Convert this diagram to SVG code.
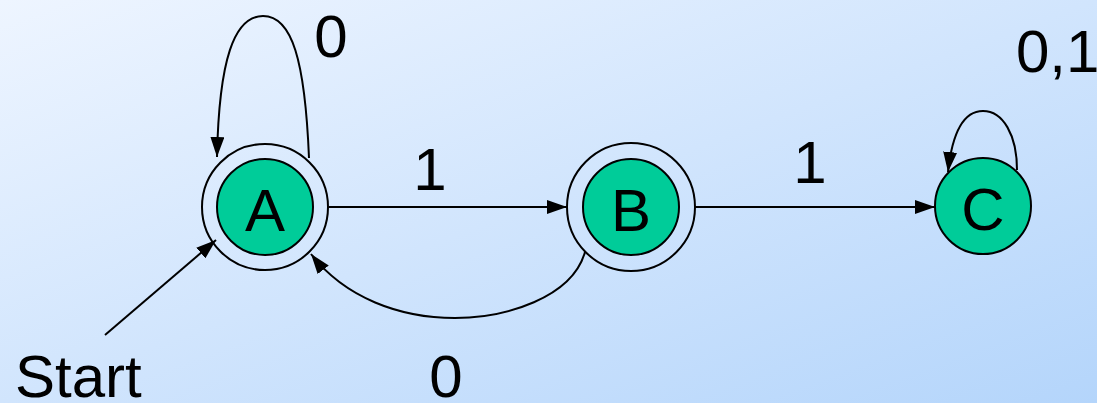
<svg xmlns="http://www.w3.org/2000/svg" width="1097" height="403" viewBox="0 0 1097 403">
<defs>
<linearGradient id="bg" x1="0" y1="0" x2="1" y2="1">
<stop offset="0" stop-color="#eef5ff"/>
<stop offset="1" stop-color="#b4d5fb"/>
</linearGradient>
<marker id="ah" viewBox="0 0 20 14" refX="20" refY="7" markerWidth="20" markerHeight="14" markerUnits="userSpaceOnUse" orient="auto">
<path d="M0,0 L20,7 L0,14 z" fill="#000"/>
</marker>
<style>
.ring{fill:none;stroke:#000;stroke-width:2}
.st{fill:#00cc99;stroke:#000;stroke-width:2}
.e{fill:none;stroke:#000;stroke-width:2;marker-end:url(#ah)}
text{font-family:"Liberation Sans","DejaVu Sans",sans-serif;font-size:60px;fill:#000}
.c{text-anchor:middle}
</style>
</defs>
<rect width="1097" height="403" fill="url(#bg)"/>
<g id="connectors">
<path class="e" d="M329,207 L567,207"/>
<path class="e" d="M695,207 L935,207"/>
<path class="e" d="M309,158 C305,60 292,16 263,16 C234,16 219,60 217,157"/>
<path class="e" d="M1017,170 C1017,135 1003,111 983,111 C963,111 952,135 948,172"/>
<path class="e" d="M105,335 L216,240"/>
<path class="e" d="M585,252 C572,298 505,318 455,318 C400,318 345,298 311,254"/>
</g>
<g id="A">
<circle class="ring" cx="265" cy="207" r="63"/>
<circle class="st" cx="265" cy="207" r="48"/>
<text class="c" x="265" y="231">A</text>
</g>
<g id="B">
<circle class="ring" cx="631" cy="207" r="64"/>
<circle class="st" cx="631" cy="207" r="48"/>
<text class="c" x="631" y="231">B</text>
</g>
<g id="C">
<circle class="st" cx="983" cy="206" r="48"/>
<text class="c" x="983" y="230">C</text>
</g>
<g id="labels">
<text x="15" y="397">Start</text>
<text class="c" x="446" y="397">0</text>
<text class="c" x="331" y="57">0</text>
<text class="c" x="430" y="190">1</text>
<text class="c" x="810" y="183">1</text>
<text x="1016" y="72">0,1</text>
</g>
</svg>
